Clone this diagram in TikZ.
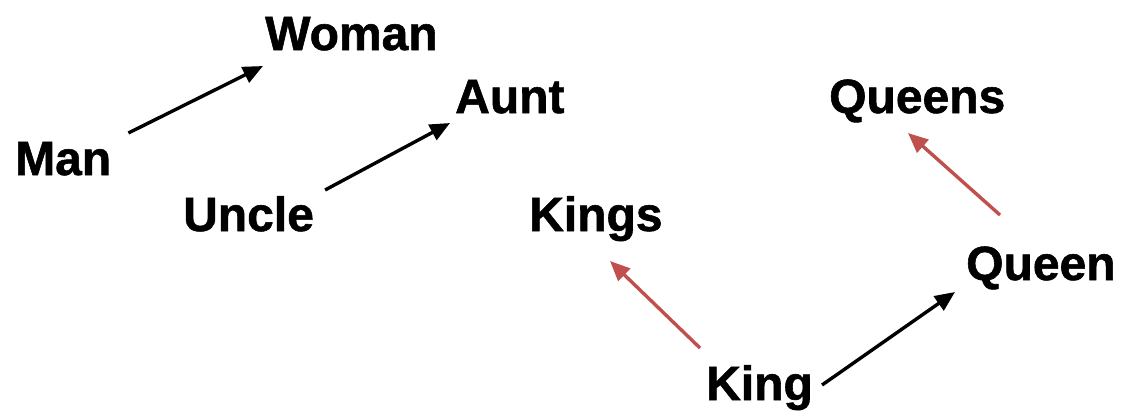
\documentclass[tikz,border=0pt]{standalone}
\usepackage{fontspec}
\setmainfont{Liberation Sans}[BoldFeatures={FakeBold=1.2}]
\usetikzlibrary{arrows.meta}
\definecolor{arrred}{RGB}{192,80,77}
\begin{document}
\begin{tikzpicture}[x=1pt,y=-1pt,
  word/.style={inner sep=0pt,anchor=base west,font=\fontsize{48}{56}\selectfont\bfseries},
  arr/.style={line width=3.4pt,-{Triangle[length=20pt,width=17pt]}},
  blackarr/.style={arr,black},
  redarr/.style={arr,arrred}]
\useasboundingbox (0,0) rectangle (1127,413);
\node[word] (man) at (15,175) {Man};
\node[word] (woman) at (265,50) {Woman};
\node[word] (uncle) at (183,231) {Uncle};
\node[word] (aunt) at (455,113) {Aunt};
\node[word] (kings) at (529,231) {Kings};
\node[word] (queens) at (829,113) {Queens};
\node[word] (queen) at (966,280) {Queen};
\node[word] (king) at (706,400) {King};
\draw[blackarr] ([shift={(17,-42)}]man.base east) -- ([shift={(-2,16)}]woman.base west);
\draw[blackarr] ([shift={(11,-41)}]uncle.base east) -- ([shift={(-5,10)}]aunt.base west);
\draw[redarr] ([shift={(-6,-52)}]king.base west) -- ([shift={(81,30)}]kings.base west);
\draw[blackarr] ([shift={(9,-15)}]king.base east) -- ([shift={(-11,12)}]queen.base west);
\draw[redarr] ([shift={(34,-65)}]queen.base west) -- ([shift={(79,20)}]queens.base west);
\end{tikzpicture}
\end{document}
